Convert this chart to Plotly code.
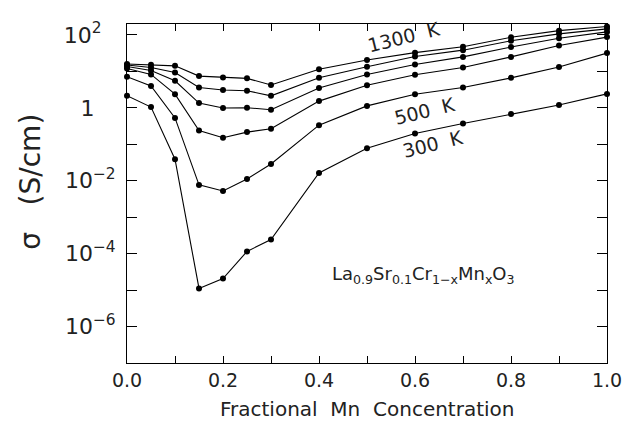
import plotly.graph_objects as go

x_mn = [0.0, 0.05, 0.1, 0.15, 0.2, 0.25, 0.3, 0.4, 0.5, 0.6, 0.7, 0.8, 0.9, 1.0]

sigma_1300K = [15.9, 15.1, 14.2, 7.43, 6.85, 6.44, 4.24, 11.5, 20.5, 32.7, 47.5, 86.1, 131, 171]
sigma_1100K = [15.0, 12.8, 9.37, 3.60, 3.10, 2.94, 2.13, 6.73, 13.4, 25.5, 38.2, 69.2, 107, 147]
sigma_900K = [13.6, 10.6, 5.51, 1.35, 0.99, 1.01, 0.89, 3.51, 8.26, 15.5, 25.0, 46.7, 80.9, 121]
sigma_700K = [12.0, 8.26, 2.37, 0.239, 0.151, 0.216, 0.266, 1.53, 4.16, 8.11, 12.8, 25.0, 51.5, 87.1]
sigma_500K = [7.16, 3.98, 0.529, 0.00769, 0.00525, 0.0112, 0.0289, 0.335, 1.13, 2.37, 3.60, 6.64, 13.2, 31.7]
sigma_300K = [2.16, 1.05, 0.0391, 1.11e-5, 2.08e-5, 1.15e-4, 2.43e-4, 0.0163, 0.0776, 0.198, 0.371, 0.679, 1.19, 2.41]

series_names = ["1300 K", "1100 K", "900 K", "700 K", "500 K", "300 K"]
series_values = [sigma_1300K, sigma_1100K, sigma_900K, sigma_700K, sigma_500K, sigma_300K]

NB = "\u00a0"
x_tickvals = [0.0, 0.1, 0.2, 0.3, 0.4, 0.5, 0.6, 0.7, 0.8, 0.9, 1.0]
x_ticktext = ["0.0", "", "0.2", "", "0.4", "", "0.6", "", "0.8", "", "1.0"]
y_tickvals = [1e-7, 1e-6, 1e-5, 1e-4, 1e-3, 1e-2, 1e-1, 1, 10, 100]
y_ticktext = ["", "10<sup>−6</sup>", "", "10<sup>−4</sup>", "", "10<sup>−2</sup>", "",
              "1" + NB * 3, "", "10<sup>2</sup>" + NB * 2]

FONT = "DejaVu Sans"
INK = "#222"

fig = go.Figure()
for name, vals in zip(series_names, series_values):
    fig.add_trace(go.Scatter(
        x=x_mn, y=vals, mode="lines+markers", name=name,
        line=dict(color="black", width=1.1),
        marker=dict(color="black", size=6, symbol="circle"),
        cliponaxis=False, showlegend=False,
    ))

# page body adds an 8px offset; figure sized so plot frame lands at 127..613 x 20..363
fig.update_layout(
    width=626, height=415,
    margin=dict(l=119, r=21, t=12, b=60),
    paper_bgcolor="white", plot_bgcolor="white",
    font=dict(family=FONT, size=19, color=INK),
)
fig.update_xaxes(
    range=[0, 1], tickvals=x_tickvals, ticktext=x_ticktext,
    showline=True, linecolor="black", linewidth=1, mirror="ticks",
    ticks="inside", ticklen=7, tickcolor="black", showgrid=False, zeroline=False,
    tickfont=dict(family=FONT, size=19, color=INK),
)
fig.update_yaxes(
    type="log", range=[-7, 2.3], tickvals=y_tickvals, ticktext=y_ticktext,
    showline=True, linecolor="black", linewidth=1, mirror="ticks",
    ticks="inside", ticklen=10, tickcolor="black", showgrid=False, zeroline=False,
    tickfont=dict(family=FONT, size=22, color=INK), ticklabelstandoff=6,
)

ann_font = dict(family=FONT, size=19, color=INK)
def note(text, x, y, font, angle=0):
    fig.add_annotation(text=text, xref="paper", yref="paper", x=x, y=y,
                       xanchor="center", yanchor="middle",
                       showarrow=False, textangle=angle, font=font)

note("1300" + NB * 2 + "K", 0.576, 0.962, ann_font, -14)
note("500" + NB * 2 + "K", 0.619, 0.742, ann_font, -14)
note("300" + NB * 2 + "K", 0.636, 0.647, ann_font, -14)
note("La<sub>0.9</sub>Sr<sub>0.1</sub>Cr<sub>1−x</sub>Mn<sub>x</sub>O<sub>3</sub>",
     0.617, 0.259, dict(family=FONT, size=18, color=INK))
note("σ" + NB * 3 + "(S/cm)", -0.2016, 0.535, dict(family=FONT, size=28, color=INK), -90)
note("Fractional" + NB * 2 + "Mn" + NB * 2 + "Concentration", 0.5, -0.137,
     dict(family=FONT, size=20, color=INK))

fig.write_html("out.html")
